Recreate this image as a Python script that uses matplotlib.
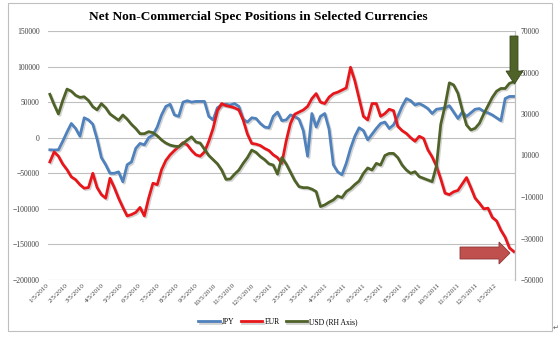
import numpy as np
import pandas as pd
import matplotlib
matplotlib.use("Agg")
import matplotlib.pyplot as plt
import matplotlib.patheffects as pe
from matplotlib.patches import Polygon, Rectangle

plt.rcParams['font.family'] = ['Liberation Serif', 'DejaVu Serif']

# weekly CFTC readings, 1/5/2010 .. 1/31/2012
dates = pd.date_range('2010-01-05', periods=109, freq='7D')

jpy = [-17000, -17300, -17000, -5000, 8000, 20000, 13000, 2000, 28000, 25000,
       19000, -2000, -28000, -38000, -50000, -50000, -48000, -62000, -38000, -34000,
       -15000, -8000, -10000, 0, 3800, 15000, 32000, 44000, 47000, 32000,
       30000, 50000, 52000, 50000, 51000, 51000, 51000, 30000, 25000, 42000,
       46000, 47000, 46000, 48000, 44000, 26000, 22000, 28000, 27000, 20000,
       15000, 14000, 30000, 36000, 24000, 25000, 32000, 30000, 26000, 10000,
       -26000, 34000, 15000, 30000, 34000, 12000, -38000, -48000, -52000, -36000,
       -15000, 2000, 14000, 10000, -3000, 5000, 13000, 20000, 22000, 13000,
       18000, 30000, 44000, 55000, 52000, 46000, 48000, 45000, 41000, 34000,
       40000, 41000, 42000, 45000, 36000, 27000, 36000, 30000, 35000, 40000,
       41000, 37000, 35000, 32000, 28000, 24000, 55000, 58000, 58000]

eur = [-34000, -20000, -26000, -37000, -45000, -55000, -59000, -66000, -71000, -70000,
       -50000, -70000, -80000, -85000, -57000, -70000, -85000, -98000, -110000, -108000,
       -105000, -98000, -110000, -85000, -64000, -66000, -45000, -32000, -24000, -18000,
       -12700, -7000, -10000, -18000, -24000, -26000, -20000, -5000, 13000, 38000,
       48000, 45000, 43700, 42000, 39000, 25000, 5000, -8000, -9000, -11000,
       -15000, -18000, -24000, -28000, -36000, -5000, 20000, 33000, 36000, 39000,
       44000, 55000, 62000, 50000, 48000, 57000, 62000, 64000, 67000, 70000,
       99000, 80000, 55000, 30000, 25000, 48000, 48000, 30000, 34000, 40000,
       38000, 16000, 10000, 6000, 0, -5000, 2000, -1000, -17000, -27000,
       -40000, -58000, -78000, -80000, -76000, -74000, -65000, -56000, -70000, -85000,
       -92000, -100000, -99000, -112000, -117000, -130000, -140000, -155000, -160000]

usd = [39500, 34500, 30000, 36500, 42000, 41000, 39000, 38000, 38300, 36500,
       33500, 32000, 35000, 33000, 30000, 28500, 27000, 29500, 27500, 25000,
       23000, 20500, 20500, 21500, 21000, 19500, 17500, 16000, 15000, 14500,
       14300, 15800, 17500, 19000, 16500, 16000, 13000, 10000, 8000, 6000,
       3000, -1500, -1300, 1000, 3000, 6200, 9000, 12600, 11500, 9500,
       8000, 6000, 5400, 1000, 9000, 6000, 2000, -2000, -5000, -5500,
       -5500, -6200, -7400, -14600, -13800, -12500, -11400, -9500, -10300, -7400,
       -6000, -4000, -2300, 1400, 4000, 3000, 6200, 5400, 10000, 11000,
       11000, 9000, 5400, 3000, 1400, 2200, -200, -1000, -1800, -2600,
       5000, 25000, 34000, 45000, 44000, 40000, 32000, 24700, 22300, 23100,
       25500, 30000, 34000, 38000, 41000, 42300, 42300, 44800, 45500]

left_ticks = np.arange(-200000, 150001, 50000)
right_ticks = np.arange(-50000, 70001, 20000)
month_ticks = pd.date_range('2010-01-01', '2012-01-01', freq='MS') + pd.Timedelta(days=4)
month_labels = [f"{d.month}/{d.day}/{d.year}" for d in month_ticks]

W, H = 560, 343
fig = plt.figure(figsize=(W / 100, H / 100), dpi=100)
ax = fig.add_axes([48 / W, 1 - 280 / H, (515 - 48) / W, (280 - 31) / H])
ax2 = ax.twinx()

shadow = [pe.SimpleLineShadow(offset=(1, -1), shadow_color='gray', alpha=0.35), pe.Normal()]
l1, = ax.plot(dates, jpy, color='#4F81BD', lw=2.0, label='JPY', path_effects=shadow)
l2, = ax.plot(dates, eur, color='#E8161B', lw=2.0, label='EUR', path_effects=shadow)
l3, = ax2.plot(dates, usd, color='#4F6228', lw=2.0, label='USD (RH Axis)', path_effects=shadow)

ax.set_ylim(-200000, 150000)
ax2.set_ylim(-50000, 70000)
ax.set_yticks(left_ticks)
ax2.set_yticks(right_ticks)
ax.set_xlim(dates[0] - pd.Timedelta(days=3), dates[-1] + pd.Timedelta(days=2))
ax.set_xticks(month_ticks)
ax.set_xticklabels(month_labels, rotation=45, ha='right', va='top', fontsize=5, color='#404040')
ax.tick_params(axis='x', length=0, pad=2)
ax.tick_params(axis='y', length=0, labelsize=5.5, labelcolor='#404040', pad=6)
ax2.tick_params(axis='y', length=0, labelsize=5.5, labelcolor='#404040', pad=4)
ax.grid(axis='y', color='#bfbfbf', lw=0.8)
ax.set_axisbelow(True)
for a in (ax, ax2):
    for s in ('top', 'left', 'bottom'):
        a.spines[s].set_visible(False)
    a.spines['right'].set_color('#bfbfbf')
    a.spines['right'].set_linewidth(0.8)

fig.text(258 / W, 1 - 17 / H, 'Net Non-Commercial Spec Positions in Selected Currencies',
         ha='center', va='center', fontsize=9.6, fontweight='bold')

fig.legend(handles=[l1, l2, l3], loc='center', bbox_to_anchor=(278 / W, 1 - 322 / H),
           ncol=3, frameon=False, fontsize=5.5, handlelength=2.8, columnspacing=0.8,
           handletextpad=0.3)


def px_poly(pts, **kw):
    xy = [(x / 100, (H - y) / 100) for x, y in pts]
    fig.patches.append(Polygon(xy, closed=True, transform=fig.dpi_scale_trans, **kw))


# green down arrow
px_poly([(510, 36), (518, 36), (518, 71), (523, 71), (514.5, 84), (506, 71), (510, 71)],
        facecolor='#4F6228', edgecolor='#3B4A1E', lw=0.6)
# red right arrow
px_poly([(460, 247), (499, 247), (499, 242), (510, 253), (499, 264), (499, 259), (460, 259)],
        facecolor='#C0504D', edgecolor='#8C3836', lw=0.6)

fig.patches.append(Rectangle((8 / W, 1 - 331 / H), (552 - 8) / W, (331 - 3) / H,
                             transform=fig.transFigure, fill=False, edgecolor='#bfbfbf', lw=0.8))
fig.text(553 / W, 1 - 328 / H, '\u21b5', fontsize=5, color='#606060', ha='left', va='center',
         family=['DejaVu Sans'])

fig.savefig('out.png', dpi=100)
